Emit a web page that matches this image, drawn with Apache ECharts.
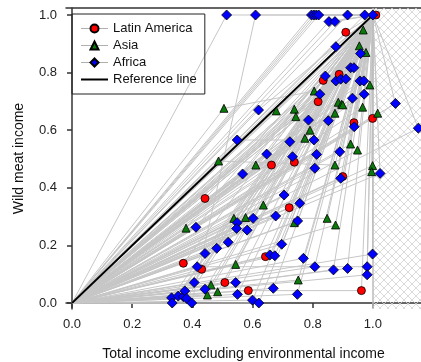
<!DOCTYPE html>
<html>
<head>
<meta charset="utf-8">
<script src="https://cdn.jsdelivr.net/npm/echarts@6/dist/echarts.min.js"></script>
<style>
  html, body { margin: 0; padding: 0; background: #fff; }
  #chart { width: 421px; height: 362px; }
</style>
</head>
<body>
<div id="chart"></div>
<script>
// points: [total income excl. env., wild meat income]
const latinAmerica = [
    [1.01, 1.0], [0.91, 0.94], [0.818, 0.699], [0.835, 0.773], [0.888, 0.794],
    [0.937, 0.626], [0.999, 0.641], [0.663, 0.479], [0.739, 0.489], [0.90, 0.439],
    [0.442, 0.363], [0.722, 0.331], [0.643, 0.161], [0.37, 0.138], [0.431, 0.117],
    [0.508, 0.071], [0.586, 0.043], [0.962, 0.043]
];
const asia = [
    [0.968, 0.948], [0.955, 0.893], [0.977, 0.87], [0.805, 0.736], [0.99, 0.757],
    [0.885, 0.697], [0.896, 0.69], [0.90, 0.688], [0.966, 0.68], [0.505, 0.676],
    [0.679, 0.667], [0.739, 0.673], [0.744, 0.647], [0.874, 0.659], [1.016, 0.659],
    [0.791, 0.60], [0.774, 0.572], [0.926, 0.552], [0.949, 0.531], [0.487, 0.493],
    [0.611, 0.479], [0.874, 0.479], [0.999, 0.477], [0.996, 0.456], [0.636, 0.34],
    [0.538, 0.294], [0.577, 0.297], [0.739, 0.279], [0.848, 0.294], [0.876, 0.271],
    [0.379, 0.26], [0.544, 0.134], [0.752, 0.08], [0.462, 0.063], [0.484, 0.039],
    [0.45, 0.028]
];
const africa = [
    [0.514, 1.0], [0.61, 1.0], [0.796, 1.0], [0.804, 1.0], [0.812, 1.0], [0.82, 1.0],
    [0.916, 1.0], [0.973, 1.0], [1.0, 1.0], [0.854, 0.977], [0.874, 0.977],
    [0.877, 0.89], [0.959, 0.866], [0.926, 0.817], [0.937, 0.817], [0.842, 0.788],
    [0.877, 0.771], [0.893, 0.777], [0.91, 0.778], [0.957, 0.771], [0.97, 0.771],
    [0.824, 0.725], [0.932, 0.711], [0.971, 0.725], [1.075, 0.693], [0.62, 0.67],
    [0.852, 0.633], [0.786, 0.635], [0.938, 0.612], [1.151, 0.607], [0.549, 0.566],
    [0.724, 0.56], [0.804, 0.566], [0.647, 0.517], [0.733, 0.508], [0.813, 0.516],
    [0.89, 0.525], [0.567, 0.448], [0.807, 0.468], [1.024, 0.45], [0.893, 0.433],
    [0.705, 0.375], [0.757, 0.346], [0.677, 0.302], [0.602, 0.294], [0.549, 0.279],
    [0.547, 0.259], [0.582, 0.253], [0.75, 0.285], [0.412, 0.263], [0.519, 0.211],
    [0.481, 0.19], [0.442, 0.172], [0.697, 0.204], [0.658, 0.167], [0.674, 0.164],
    [0.769, 0.155], [0.416, 0.126], [0.807, 0.126], [0.869, 0.115], [0.916, 0.12],
    [0.981, 0.126], [0.999, 0.17], [0.981, 0.098], [0.406, 0.071], [0.544, 0.071],
    [0.442, 0.048], [0.669, 0.051], [0.55, 0.03], [0.749, 0.03], [0.60, 0.01],
    [0.621, 0.0], [0.331, 0.018], [0.353, 0.024], [0.37, 0.022], [0.375, 0.042],
    [0.381, 0.016], [0.333, 0.0], [0.398, 0.0]
];
// pairs of points that sit on the same grey curve
const linkedPairs = [
    [[0.586, 0.043], [0.962, 0.043]],
    [[0.538, 0.294], [0.848, 0.294]],
    [[0.416, 0.126], [0.981, 0.126]],
    [[0.505, 0.676], [0.805, 0.736]],
    [[0.398, 0.0], [0.61, 1.0]],
    [[0.487, 0.493], [0.874, 0.479]],
    [[0.549, 0.566], [0.804, 0.566]]
];
const curveStart = [0, 0];
const curveEnd = [1, 1];
const xTicks = [0, 0.2, 0.4, 0.6, 0.8, 1.0];
const yTicks = [0, 0.2, 0.4, 0.6, 0.8, 1.0];

(function () {
    const chart = echarts.init(document.getElementById('chart'));

    const X_MIN = -0.02, X_MAX = 1.16;
    const Y_MIN = -0.0208, Y_MAX = 1.0243;

    // grey curves: origin -> point(s) -> (1,1)
    const key = p => p[0] + ',' + p[1];
    const paired = new Set();
    linkedPairs.forEach(pr => { paired.add(key(pr[0])); paired.add(key(pr[1])); });
    const curves = linkedPairs.map(pr => ({ coords: [curveStart, pr[0], pr[1], curveEnd] }));
    latinAmerica.concat(asia, africa).forEach(p => {
        if (!paired.has(key(p))) curves.push({ coords: [curveStart, p, curveEnd] });
    });

    // cross hatch for x > 1
    const hatch = document.createElement('canvas');
    hatch.width = 8;
    hatch.height = 8;
    const ctx = hatch.getContext('2d');
    ctx.strokeStyle = '#d2d2d2';
    ctx.lineWidth = 0.8;
    ctx.beginPath();
    ctx.moveTo(0, 0); ctx.lineTo(8, 8);
    ctx.moveTo(8, 0); ctx.lineTo(0, 8);
    ctx.stroke();

    const font = 'Liberation Sans, Arial, sans-serif';
    const axisLineStyle = { color: '#333', width: 1.5 };
    const legendLine = { color: '#b0b0b0', width: 1, opacity: 1 };

    const markerSeries = (name, data, symbol, size, color) => ({
        name: name,
        type: 'line',
        data: data,
        symbol: symbol,
        symbolSize: size,
        showAllSymbol: true,
        lineStyle: { opacity: 0, width: 0 },
        itemStyle: { color: color, borderColor: '#000', borderWidth: 0.8 },
        z: 10,
        silent: true
    });

    const option = {
        animation: false,
        grid: { left: 66, right: 0, top: 8, bottom: 53, containLabel: false, outerBoundsMode: 'none' },
        legend: {
            orient: 'vertical',
            left: 72,
            top: 14,
            padding: [8, 8, 8, 8],
            itemWidth: 27,
            itemHeight: 10,
            itemGap: 4,
            itemTextGap: 8,
            borderColor: '#222',
            borderWidth: 1,
            textStyle: { fontFamily: font, fontSize: 13, color: '#111' },
            data: [
                { name: 'Latin America', lineStyle: legendLine },
                { name: 'Asia', lineStyle: legendLine },
                { name: 'Africa', lineStyle: legendLine },
                {
                    name: 'Reference line',
                    itemStyle: { opacity: 0 },
                    lineStyle: { color: '#000', width: 2, opacity: 1 }
                }
            ]
        },
        xAxis: [{
            type: 'value',
            min: X_MIN,
            max: X_MAX,
            name: 'Total income excluding environmental income',
            nameLocation: 'middle',
            nameGap: 38,
            nameTextStyle: { fontFamily: font, fontSize: 14, color: '#111' },
            axisLine: { show: true, lineStyle: axisLineStyle },
            axisTick: { show: true, length: 5, customValues: xTicks, lineStyle: axisLineStyle },
            axisLabel: {
                customValues: xTicks,
                formatter: v => v.toFixed(1),
                fontFamily: font, fontSize: 13, color: '#222', margin: 9
            },
            splitLine: { show: false }
        }, {
            type: 'value',
            position: 'top',
            min: X_MIN,
            max: X_MAX,
            axisLine: { show: true, lineStyle: axisLineStyle },
            axisTick: { show: false },
            axisLabel: { show: false },
            splitLine: { show: false }
        }],
        yAxis: {
            type: 'value',
            min: Y_MIN,
            max: Y_MAX,
            name: 'Wild meat income',
            nameLocation: 'middle',
            nameGap: 40,
            nameTextStyle: { fontFamily: font, fontSize: 14, color: '#111' },
            axisLine: { show: true, lineStyle: axisLineStyle },
            axisTick: { show: true, length: 5, customValues: yTicks, lineStyle: axisLineStyle },
            axisLabel: {
                customValues: yTicks,
                formatter: v => v.toFixed(1),
                fontFamily: font, fontSize: 13, color: '#222', margin: 9
            },
            splitLine: { show: false }
        },
        series: [
            {
                name: 'curves',
                type: 'lines',
                coordinateSystem: 'cartesian2d',
                polyline: true,
                silent: true,
                data: curves,
                lineStyle: { color: '#c6c6c6', width: 1, opacity: 1 },
                z: 2
            },
            {
                name: 'Reference line',
                type: 'line',
                data: [curveStart, curveEnd],
                symbol: 'none',
                itemStyle: { color: '#000' },
                lineStyle: { color: '#000', width: 1.8 },
                z: 5,
                markArea: {
                    silent: true,
                    itemStyle: { color: { image: hatch, repeat: 'repeat' }, borderWidth: 0 },
                    data: [[{ xAxis: 1, yAxis: Y_MIN }, { xAxis: X_MAX, yAxis: Y_MAX }]],
                    z: 1
                },
                markLine: {
                    silent: true,
                    symbol: 'none',
                    label: { show: false },
                    lineStyle: { color: '#bdbdbd', width: 1.5, type: 'solid' },
                    data: [{ xAxis: 1 }]
                }
            },
            markerSeries('Latin America', latinAmerica, 'circle', 8, '#ff0000'),
            markerSeries('Asia', asia, 'triangle', 8, '#0a7a0a'),
            markerSeries('Africa', africa, 'diamond', 10, '#0000ff')
        ]
    };
    chart.setOption(option);
})();
</script>
</body>
</html>
